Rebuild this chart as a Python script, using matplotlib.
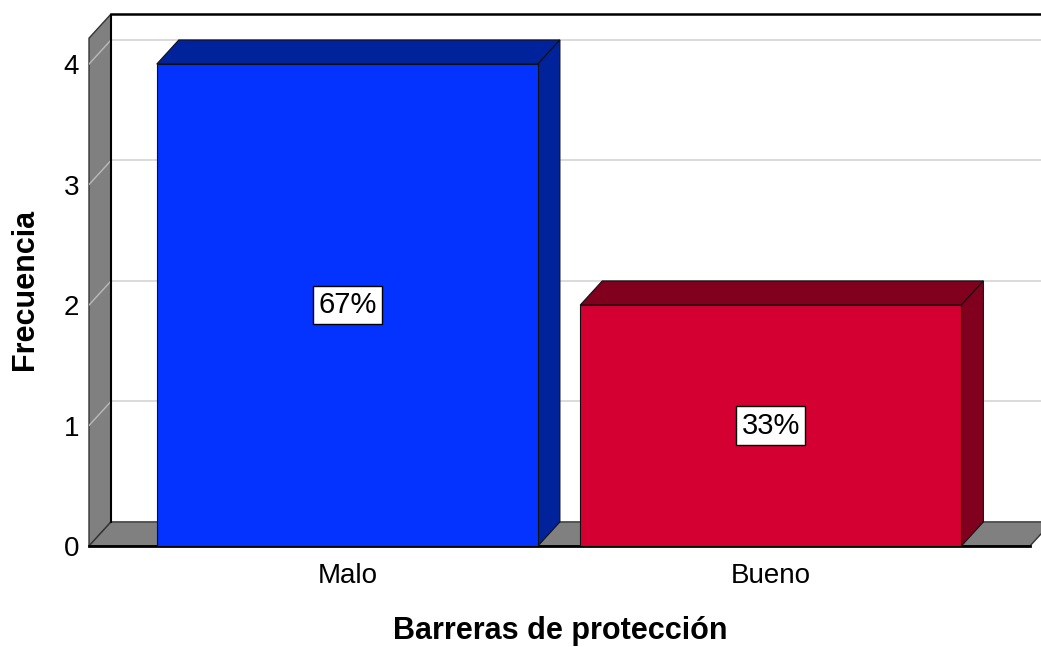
import matplotlib
matplotlib.use("Agg")
import matplotlib.pyplot as plt
from matplotlib.patches import Polygon

plt.rcParams["font.family"] = ["Liberation Sans", "DejaVu Sans"]

categories = ["Malo", "Bueno"]
counts = [4, 2]
pct_labels = ["67%", "33%"]
front_colors = ["#0433FF", "#D50032"]
dark_colors = ["#00229A", "#80001E"]
yticks = [0, 1, 2, 3, 4]

# 3D look: depth offset in data units
dx = 0.052
dy = 0.2
bar_w = 0.9
x_left = -0.61
x_floor_end = 1.612

fig = plt.figure(figsize=(10.41, 6.47), dpi=100)
ax = fig.add_axes([0.0855, 0.1561, 0.9145, 0.8222])
ax.set_xlim(x_left, 1.638)
ax.set_ylim(0, 4.415)
for s in ax.spines.values():
    s.set_visible(False)

top = ax.get_ylim()[1]
grey = "#808080"

# back wall gridlines
for t in yticks[1:]:
    ax.plot([x_left + dx, 2], [t + dy, t + dy], color="#D4D4D4", lw=1.2, zorder=1)
# back wall frame
ax.plot([x_left + dx, 2], [top, top], color="black", lw=1.8, zorder=2, clip_on=False)

# left wall
ax.add_patch(Polygon([(x_left, 0), (x_left + dx, dy), (x_left + dx, top), (x_left, top - dy)],
                     closed=True, facecolor=grey, edgecolor="#333333", lw=1, zorder=2, clip_on=False))
for t in yticks[1:]:
    ax.plot([x_left, x_left + dx], [t, t + dy], color="#BBBBBB", lw=1, zorder=3)
ax.plot([x_left + dx, x_left + dx], [dy, top], color="black", lw=1.5, zorder=3)

# floor
ax.add_patch(Polygon([(x_left, 0), (x_left + dx, dy), (x_floor_end + dx, dy), (x_floor_end, 0)],
                     closed=True, facecolor=grey, edgecolor="#333333", lw=1, zorder=2, clip_on=False))
ax.plot([x_left, x_floor_end], [0, 0], color="black", lw=2, zorder=3, clip_on=False)

# bars
for i, (v, fc, dc, lab) in enumerate(zip(counts, front_colors, dark_colors, pct_labels)):
    x0 = i - bar_w / 2
    x1 = i + bar_w / 2
    ax.add_patch(Polygon([(x0, v), (x0 + dx, v + dy), (x1 + dx, v + dy), (x1, v)],
                         closed=True, facecolor=dc, edgecolor="#111111", lw=0.8, zorder=4))
    ax.add_patch(Polygon([(x1, 0), (x1 + dx, dy), (x1 + dx, v + dy), (x1, v)],
                         closed=True, facecolor=dc, edgecolor="#111111", lw=0.8, zorder=4))
    ax.add_patch(Polygon([(x0, 0), (x0, v), (x1, v), (x1, 0)],
                         closed=True, facecolor=fc, edgecolor="#111111", lw=0.8, zorder=5))
    ax.text(i, v / 2, lab, ha="center", va="center", fontsize=21, zorder=6,
            bbox=dict(boxstyle="square,pad=0.18", facecolor="white", edgecolor="black", lw=1))

ax.set_xticks(range(len(categories)))
ax.set_xticklabels(categories, fontsize=20)
ax.set_yticks(yticks)
ax.set_yticklabels([str(t) for t in yticks], fontsize=20)
ax.tick_params(axis="x", length=0, pad=12)
ax.tick_params(axis="y", length=0, pad=7)

fig.text(0.538, 0.024, "Barreras de protección", fontsize=22, fontweight="bold",
         ha="center", va="center")
fig.text(0.024, 0.552, "Frecuencia", rotation=90, fontsize=22, fontweight="bold",
         ha="center", va="center")

fig.savefig("out.png", dpi=100)
